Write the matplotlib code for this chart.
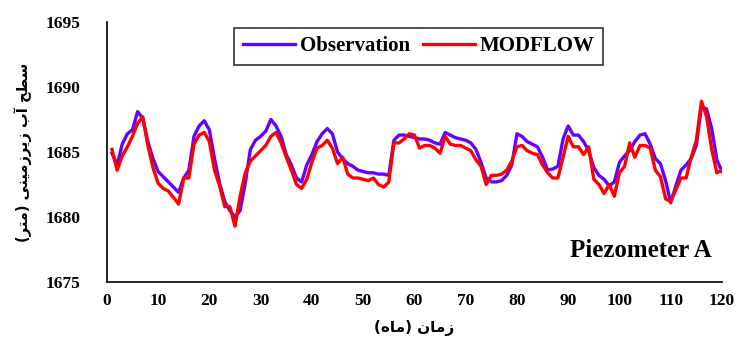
import numpy as np
import matplotlib
matplotlib.use("Agg")
import matplotlib.pyplot as plt

# ماه 1 تا 120
months = np.arange(1, 121)

observation = [
    1684.9, 1684.0, 1685.6, 1686.4, 1686.7, 1688.1, 1687.6, 1685.8, 1684.5, 1683.5,
    1683.1, 1682.7, 1682.3, 1681.9, 1683.0, 1683.6, 1686.2, 1687.0, 1687.4, 1686.7,
    1684.5, 1682.6, 1681.2, 1680.5, 1680.0, 1680.5, 1682.6, 1685.2, 1685.9, 1686.2,
    1686.6, 1687.5, 1687.0, 1686.2, 1684.8, 1684.0, 1683.0, 1682.7, 1684.0, 1684.8,
    1685.8, 1686.4, 1686.8, 1686.4, 1685.0, 1684.5, 1684.1, 1683.9, 1683.6, 1683.5,
    1683.4, 1683.4, 1683.3, 1683.3, 1683.2, 1685.9, 1686.3, 1686.3, 1686.2, 1686.1,
    1686.0, 1686.0, 1685.9, 1685.7, 1685.6, 1686.5, 1686.3, 1686.1, 1686.0, 1685.9,
    1685.7, 1685.2, 1684.2, 1683.0, 1682.7, 1682.7, 1682.8, 1683.2, 1684.0, 1686.4,
    1686.2, 1685.8, 1685.6, 1685.4, 1684.6, 1683.6, 1683.7, 1683.9, 1686.0, 1687.0,
    1686.3, 1686.3, 1685.8, 1685.1, 1683.8, 1683.2, 1682.9, 1682.4, 1682.7, 1684.2,
    1684.7, 1685.1, 1685.8, 1686.3, 1686.4, 1685.6, 1684.5, 1684.1, 1682.8, 1681.1,
    1682.4, 1683.6, 1684.0, 1684.5, 1685.5, 1688.5, 1688.3, 1686.8, 1684.4, 1683.5,
]

modflow = [
    1685.2, 1683.6, 1684.7, 1685.4, 1686.2, 1687.2, 1687.7, 1685.5, 1683.8, 1682.6,
    1682.2, 1682.0, 1681.5, 1681.0, 1683.0, 1683.0, 1685.6, 1686.3, 1686.5, 1685.8,
    1683.6, 1682.4, 1680.8, 1680.8, 1679.3, 1681.6, 1683.4, 1684.3, 1684.7, 1685.1,
    1685.5, 1686.2, 1686.5, 1685.7, 1684.6, 1683.6, 1682.5, 1682.2, 1682.9, 1684.2,
    1685.3, 1685.5, 1685.9, 1685.3, 1684.1, 1684.6, 1683.3, 1683.0, 1683.0, 1682.9,
    1682.8, 1683.0, 1682.5, 1682.3, 1682.7, 1685.7, 1685.7, 1686.0, 1686.4, 1686.3,
    1685.3, 1685.5, 1685.5, 1685.3, 1684.9, 1686.2, 1685.6, 1685.5, 1685.5, 1685.3,
    1685.1, 1684.4, 1683.9, 1682.5, 1683.2, 1683.2, 1683.3, 1683.6, 1684.3, 1685.4,
    1685.5, 1685.1, 1684.9, 1684.8, 1684.0, 1683.4, 1683.0, 1683.0, 1684.6, 1686.2,
    1685.4, 1685.4, 1684.8, 1685.4, 1682.9, 1682.5, 1681.8, 1682.5, 1681.6, 1683.4,
    1683.9, 1685.7, 1684.6, 1685.5, 1685.5, 1685.3, 1683.6, 1683.1, 1681.4, 1681.2,
    1682.1, 1683.0, 1683.0, 1684.6, 1685.9, 1688.9, 1687.7, 1685.2, 1683.4, 1683.6,
]

x_ticks = np.arange(0, 121, 10)
y_ticks = np.arange(1675, 1696, 5)

# متن فارسی به صورت شکل‌های نمایشی و ترتیب بصری (بدون reshaper)
x_label = "(\ufee9\ufe8e\ufee3) \ufee5\ufe8e\ufee3\ufeaf"
y_label = "(\ufeae\ufe98\ufee3) \ufbfd\ufee8\ufbff\ufee3\ufeaf\ufeae\ufbfe\ufeaf \ufe8f\ufe81 \ufea2\ufec4\ufeb3"

plt.rcParams['font.family'] = ['Liberation Serif', 'DejaVu Sans']
plt.rcParams['font.weight'] = 'bold'

fig = plt.figure(figsize=(7.42, 3.47), dpi=100)
ax = fig.add_axes([0.144, 0.187, 0.829, 0.75])

ax.plot(months, observation, color='#6600ff', lw=2.4, label='Observation')
ax.plot(months, modflow, color='#ff0000', lw=2.4, label='MODFLOW')

ax.set_xlim(0, 120)
ax.set_ylim(1675, 1695)
ax.set_xticks(x_ticks)
ax.set_yticks(y_ticks)
ax.tick_params(axis='both', length=0, labelsize=12.5)
ax.tick_params(axis='y', pad=19)
ax.tick_params(axis='x', pad=8)
for lab in ax.get_xticklabels() + ax.get_yticklabels():
    lab.set_fontweight('bold')

for side in ['top', 'right']:
    ax.spines[side].set_visible(False)
for side in ['left', 'bottom']:
    ax.spines[side].set_linewidth(1.2)

ax.set_xlabel(x_label, family=['DejaVu Sans'], fontsize=11, fontweight='bold', labelpad=8)
ax.set_ylabel(y_label, family=['DejaVu Sans'], fontsize=10.5, fontweight='bold', labelpad=10)

leg = ax.legend(loc='upper center', bbox_to_anchor=(0.507, 0.977), ncol=2,
                frameon=True, fancybox=False, edgecolor='black',
                prop={'family': 'Liberation Serif', 'weight': 'bold', 'size': 15},
                handlelength=2.5, columnspacing=0.6, handletextpad=0.25,
                borderaxespad=0, borderpad=0.4)
leg.get_frame().set_linewidth(1.2)

ax.text(0.984, 0.12, 'Piezometer A', transform=ax.transAxes, ha='right', va='center',
        fontsize=18, fontweight='bold')

fig.savefig('out.png', dpi=100)
